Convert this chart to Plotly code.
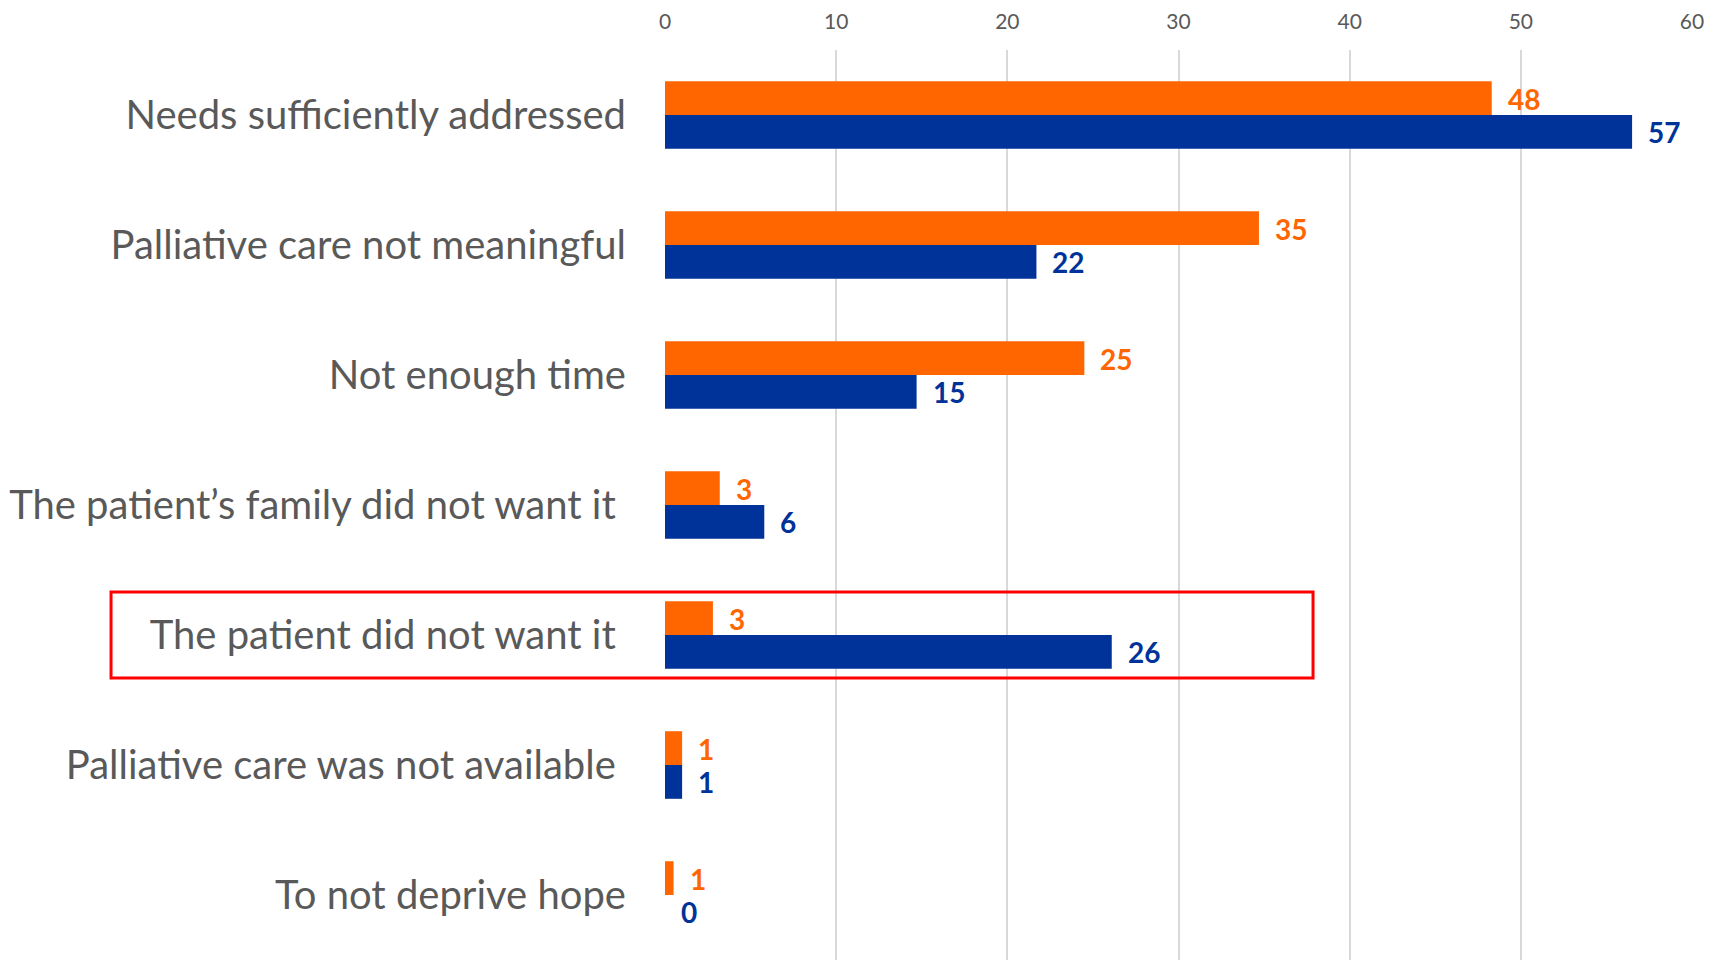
import plotly.graph_objects as go

categories = [
    "Needs sufficiently addressed",
    "Palliative care not meaningful",
    "Not enough time",
    "The patient’s family did not want it",
    "The patient did not want it",
    "Palliative care was not available",
    "To not deprive hope",
]
tick_labels = [
    "Needs sufficiently addressed",
    "Palliative care not meaningful",
    "Not enough time",
    "The patient’s family did not want it\u00a0",
    "The patient did not want it\u00a0",
    "Palliative care was not available\u00a0",
    "To not deprive hope",
]
orange_values = [48.3, 34.7, 24.5, 3.2, 2.8, 1.0, 0.5]
orange_labels = ["48", "35", "25", "3", "3", "1", "1"]
blue_values = [56.5, 21.7, 14.7, 5.8, 26.1, 1.0, 0.0]
blue_labels = ["57", "22", "15", "6", "26", "1", "0"]

ORANGE = "#FF6600"
BLUE = "#003399"
GREY = "#595959"
FONT = "Lato"

fig = go.Figure()
fig.add_trace(go.Bar(y=categories, x=orange_values, orientation="h",
                     marker=dict(color=ORANGE, line=dict(width=0)), name="orange"))
fig.add_trace(go.Bar(y=categories, x=blue_values, orientation="h",
                     marker=dict(color=BLUE, line=dict(width=0)), name="blue"))

annotations = []
for c, v, t in zip(categories, orange_values, orange_labels):
    annotations.append(dict(x=v, y=c, text=f"<b>{t}</b>", showarrow=False,
                            xanchor="left", yanchor="middle", xshift=14, yshift=16,
                            font=dict(family=FONT, size=28, color=ORANGE)))
for c, v, t in zip(categories, blue_values, blue_labels):
    annotations.append(dict(x=v, y=c, text=f"<b>{t}</b>", showarrow=False,
                            xanchor="left", yanchor="middle", xshift=14, yshift=-17,
                            font=dict(family=FONT, size=28, color=BLUE)))

fig.update_layout(
    width=1721, height=960,
    margin=dict(l=665, r=29, t=50, b=0),
    paper_bgcolor="white", plot_bgcolor="white",
    showlegend=False,
    barmode="group", bargap=0.48, bargroupgap=0,
    annotations=annotations,
    font=dict(family=FONT, color=GREY),
    shapes=[dict(type="rect", xref="paper", yref="y",
                 x0=-0.5394, x1=0.631, y0=3.67, y1=4.33,
                 line=dict(color="#FF0000", width=3), fillcolor="rgba(0,0,0,0)")],
)
fig.update_xaxes(side="top", range=[0, 60], dtick=10, tick0=0,
                 showgrid=True, gridcolor="#D9D9D9", gridwidth=1.5,
                 zeroline=False, showline=False, ticks="", ticklabelstandoff=16,
                 tickfont=dict(family=FONT, size=21, color=GREY))
fig.update_yaxes(autorange="reversed", tickvals=categories, ticktext=tick_labels,
                 showgrid=False, showline=False, ticks="", ticklabelstandoff=38,
                 tickfont=dict(family=FONT, size=40, color=GREY))

fig.write_html("out.html")
